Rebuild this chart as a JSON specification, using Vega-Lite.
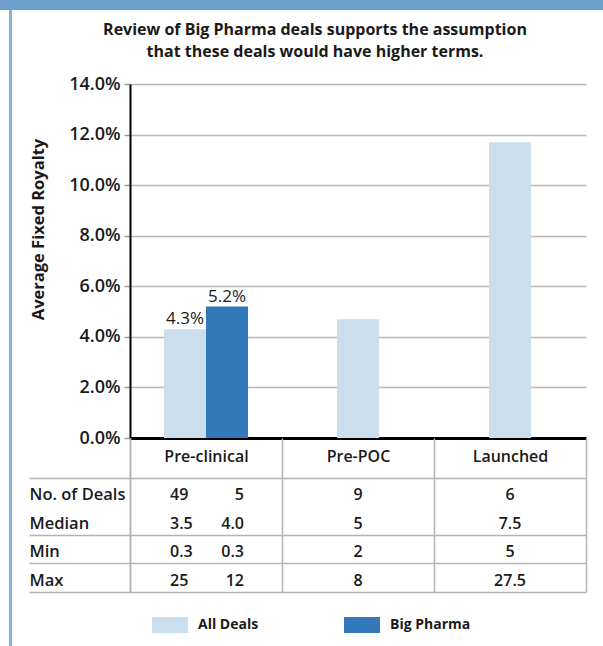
{
  "$schema": "https://vega.github.io/schema/vega-lite/v6.json",
  "padding": 0,
  "background": "white",
  "config": {
    "font": "Open Sans",
    "view": {"stroke": null}
  },
  "datasets": {
    "royalty": [
      {"stage": "Pre-clinical", "series": "All Deals", "royalty": 0.043},
      {"stage": "Pre-clinical", "series": "Big Pharma", "royalty": 0.052},
      {"stage": "Pre-POC", "series": "All Deals", "royalty": 0.047},
      {"stage": "Launched", "series": "All Deals", "royalty": 0.117}
    ],
    "terms": [
      {"stage": "Pre-clinical", "series": "All Deals", "metric": "No. of Deals", "value": "49"},
      {"stage": "Pre-clinical", "series": "All Deals", "metric": "Median", "value": "3.5"},
      {"stage": "Pre-clinical", "series": "All Deals", "metric": "Min", "value": "0.3"},
      {"stage": "Pre-clinical", "series": "All Deals", "metric": "Max", "value": "25"},
      {"stage": "Pre-clinical", "series": "Big Pharma", "metric": "No. of Deals", "value": "5"},
      {"stage": "Pre-clinical", "series": "Big Pharma", "metric": "Median", "value": "4.0"},
      {"stage": "Pre-clinical", "series": "Big Pharma", "metric": "Min", "value": "0.3"},
      {"stage": "Pre-clinical", "series": "Big Pharma", "metric": "Max", "value": "12"},
      {"stage": "Pre-POC", "series": "All Deals", "metric": "No. of Deals", "value": "9"},
      {"stage": "Pre-POC", "series": "All Deals", "metric": "Median", "value": "5"},
      {"stage": "Pre-POC", "series": "All Deals", "metric": "Min", "value": "2"},
      {"stage": "Pre-POC", "series": "All Deals", "metric": "Max", "value": "8"},
      {"stage": "Launched", "series": "All Deals", "metric": "No. of Deals", "value": "6"},
      {"stage": "Launched", "series": "All Deals", "metric": "Median", "value": "7.5"},
      {"stage": "Launched", "series": "All Deals", "metric": "Min", "value": "5"},
      {"stage": "Launched", "series": "All Deals", "metric": "Max", "value": "27.5"}
    ]
  },
  "spacing": 0,
  "vconcat": [
    {
      "width": 603,
      "height": 10,
      "data": {"values": []},
      "mark": "rect",
      "encoding": {},
      "view": {"fill": "#6c9fcc", "stroke": null}
    },
    {
      "spacing": 0,
      "hconcat": [
        {
          "width": 9,
          "height": 636,
          "data": {"values": []},
          "mark": "rect",
          "encoding": {}
        },
        {
          "width": 3,
          "height": 636,
          "data": {"values": []},
          "mark": "rect",
          "encoding": {},
          "view": {"fill": "#82b3dd", "stroke": null}
        },
        {
          "width": 16,
          "height": 636,
          "data": {"values": []},
          "mark": "rect",
          "encoding": {}
        },
        {
          "spacing": 0,
          "bounds": "flush",
          "vconcat": [
            {
              "width": 1,
              "height": 74,
              "data": {"values": []},
              "mark": "rect",
              "encoding": {}
            },
            {
              "width": 456,
              "height": 354,
              "title": {
                "text": ["Review of Big Pharma deals supports the assumption", "that these deals would have higher terms."],
                "fontSize": 16,
                "fontWeight": "bold",
                "color": "#1a1a1a",
                "lineHeight": 22,
                "anchor": "middle",
                "frame": "bounds",
                "dx": 7,
                "offset": 15
              },
              "data": {"name": "royalty"},
              "encoding": {
                "x": {
                  "field": "stage",
                  "type": "nominal",
                  "scale": {"domain": ["Pre-clinical", "Pre-POC", "Launched"], "paddingInner": 0, "paddingOuter": 0},
                  "axis": {"orient": "bottom", "labels": false, "ticks": false, "grid": false, "title": null, "minExtent": 0, "domainColor": "#000000", "domainWidth": 3}
                },
                "y": {
                  "field": "royalty",
                  "type": "quantitative",
                  "scale": {"domain": [0, 0.14], "nice": false},
                  "axis": {
                    "values": [0, 0.02, 0.04, 0.06, 0.08, 0.1, 0.12, 0.14],
                    "format": ".1%",
                    "title": "Average Fixed Royalty",
                    "titleFontSize": 16.5,
                    "titleFontWeight": "bold",
                    "titleColor": "#1a1a1a",
                    "titleAngle": 270,
                    "titleAlign": "center",
                    "titleBaseline": "middle",
                    "titleX": -92,
                    "titleY": 145,
                    "labelFontSize": 18,
                    "labelFontWeight": 600,
                    "labelColor": "#1a1a1a",
                    "labelPadding": 4,
                    "tickSize": 6,
                    "tickColor": "#9a9a9a",
                    "tickWidth": 1.5,
                    "domainColor": "#000000",
                    "domainWidth": 2,
                    "grid": true,
                    "gridColor": "#b9b9b9",
                    "gridWidth": 1.5
                  }
                }
              },
              "layer": [
                {
                  "transform": [{"filter": "datum.stage === 'Pre-clinical'"}],
                  "mark": {"type": "bar"},
                  "encoding": {
                    "xOffset": {"field": "series", "type": "nominal", "scale": {"domain": ["All Deals", "Big Pharma"], "paddingInner": 0, "paddingOuter": 0.81}},
                    "color": {
                      "field": "series",
                      "type": "nominal",
                      "scale": {"domain": ["All Deals", "Big Pharma"], "range": ["#cbdeee", "#3179b8"]},
                      "legend": {
                        "orient": "none",
                        "legendX": 152,
                        "legendY": 607,
                        "direction": "horizontal",
                        "title": null,
                        "symbolType": "M-1,-0.444L1,-0.444L1,0.444L-1,0.444Z",
                        "symbolSize": 1296,
                        "symbolStrokeWidth": 0,
                        "labelFontSize": 14,
                        "labelFontWeight": "bold",
                        "labelColor": "#1a1a1a",
                        "labelOffset": 10,
                        "columnPadding": 85
                      }
                    }
                  }
                },
                {
                  "transform": [{"filter": "datum.stage !== 'Pre-clinical'"}],
                  "mark": {"type": "bar", "width": {"band": 0.277}},
                  "encoding": {
                    "color": {"field": "series", "type": "nominal"}
                  }
                },
                {
                  "transform": [{"filter": "datum.stage === 'Pre-clinical'"}],
                  "mark": {"type": "text", "baseline": "bottom", "dy": -1, "fontSize": 17, "fontWeight": 500, "color": "#1a1a1a"},
                  "encoding": {
                    "xOffset": {"field": "series", "type": "nominal"},
                    "text": {"field": "royalty", "type": "quantitative", "format": ".1%"}
                  }
                }
              ]
            },
            {
              "width": 456,
              "height": 154,
              "data": {"name": "terms"},
              "encoding": {
                "x": {
                  "field": "stage",
                  "type": "nominal",
                  "scale": {"domain": ["Pre-clinical", "Pre-POC", "Launched"], "paddingInner": 0, "paddingOuter": 0},
                  "axis": {
                    "orient": "top",
                    "title": null,
                    "domain": false,
                    "ticks": false,
                    "grid": true,
                    "minExtent": 0,
                    "tickBand": "extent",
                    "gridColor": "#b3b3b3",
                    "gridWidth": 1.5,
                    "labelAngle": 0,
                    "labelPadding": -18,
                    "labelBaseline": "middle",
                    "labelFontSize": 16,
                    "labelFontWeight": 600,
                    "labelColor": "#1a1a1a"
                  }
                },
                "y": {
                  "field": "metric",
                  "type": "nominal",
                  "sort": ["No. of Deals", "Median", "Min", "Max"],
                  "scale": {"paddingInner": 0, "paddingOuter": 0.7, "align": 1},
                  "axis": {
                    "title": null,
                    "tickBand": "extent",
                    "tickSize": 101,
                    "tickColor": "#b3b3b3",
                    "tickWidth": 1.5,
                    "tickOpacity": {"condition": {"test": "datum.value === 'No. of Deals'", "value": 0}, "value": 1},
                    "grid": true,
                    "gridColor": "#b3b3b3",
                    "gridWidth": 1.5,
                    "gridOpacity": {"condition": {"test": "datum.value === 'No. of Deals'", "value": 0}, "value": 1},
                    "domainColor": "#b3b3b3",
                    "domainWidth": 1.5,
                    "labelAlign": "left",
                    "labelPadding": 0,
                    "labelOffset": 2.5,
                    "labelFontSize": 16.5,
                    "labelFontWeight": 600,
                    "labelColor": "#1a1a1a"
                  }
                }
              },
              "layer": [
                {
                  "transform": [{"filter": "datum.stage === 'Pre-clinical' && datum.series === 'All Deals'"}],
                  "mark": {"type": "text", "align": "left", "dx": -15, "dy": 3, "fontSize": 16, "fontWeight": 600, "color": "#1a1a1a"},
                  "encoding": {
                    "xOffset": {"field": "series", "type": "nominal", "scale": {"domain": ["All Deals", "Big Pharma"], "paddingInner": 0, "paddingOuter": 0.81}},
                    "text": {"field": "value"}
                  }
                },
                {
                  "transform": [{"filter": "datum.stage === 'Pre-clinical' && datum.series === 'Big Pharma'"}],
                  "mark": {"type": "text", "align": "right", "dx": 17, "dy": 3, "fontSize": 16, "fontWeight": 600, "color": "#1a1a1a"},
                  "encoding": {
                    "xOffset": {"field": "series", "type": "nominal"},
                    "text": {"field": "value"}
                  }
                },
                {
                  "transform": [{"filter": "datum.stage !== 'Pre-clinical'"}],
                  "mark": {"type": "text", "align": "center", "dy": 3, "fontSize": 16, "fontWeight": 600, "color": "#1a1a1a"},
                  "encoding": {
                    "text": {"field": "value"}
                  }
                }
              ]
            }
          ]
        }
      ]
    }
  ]
}
